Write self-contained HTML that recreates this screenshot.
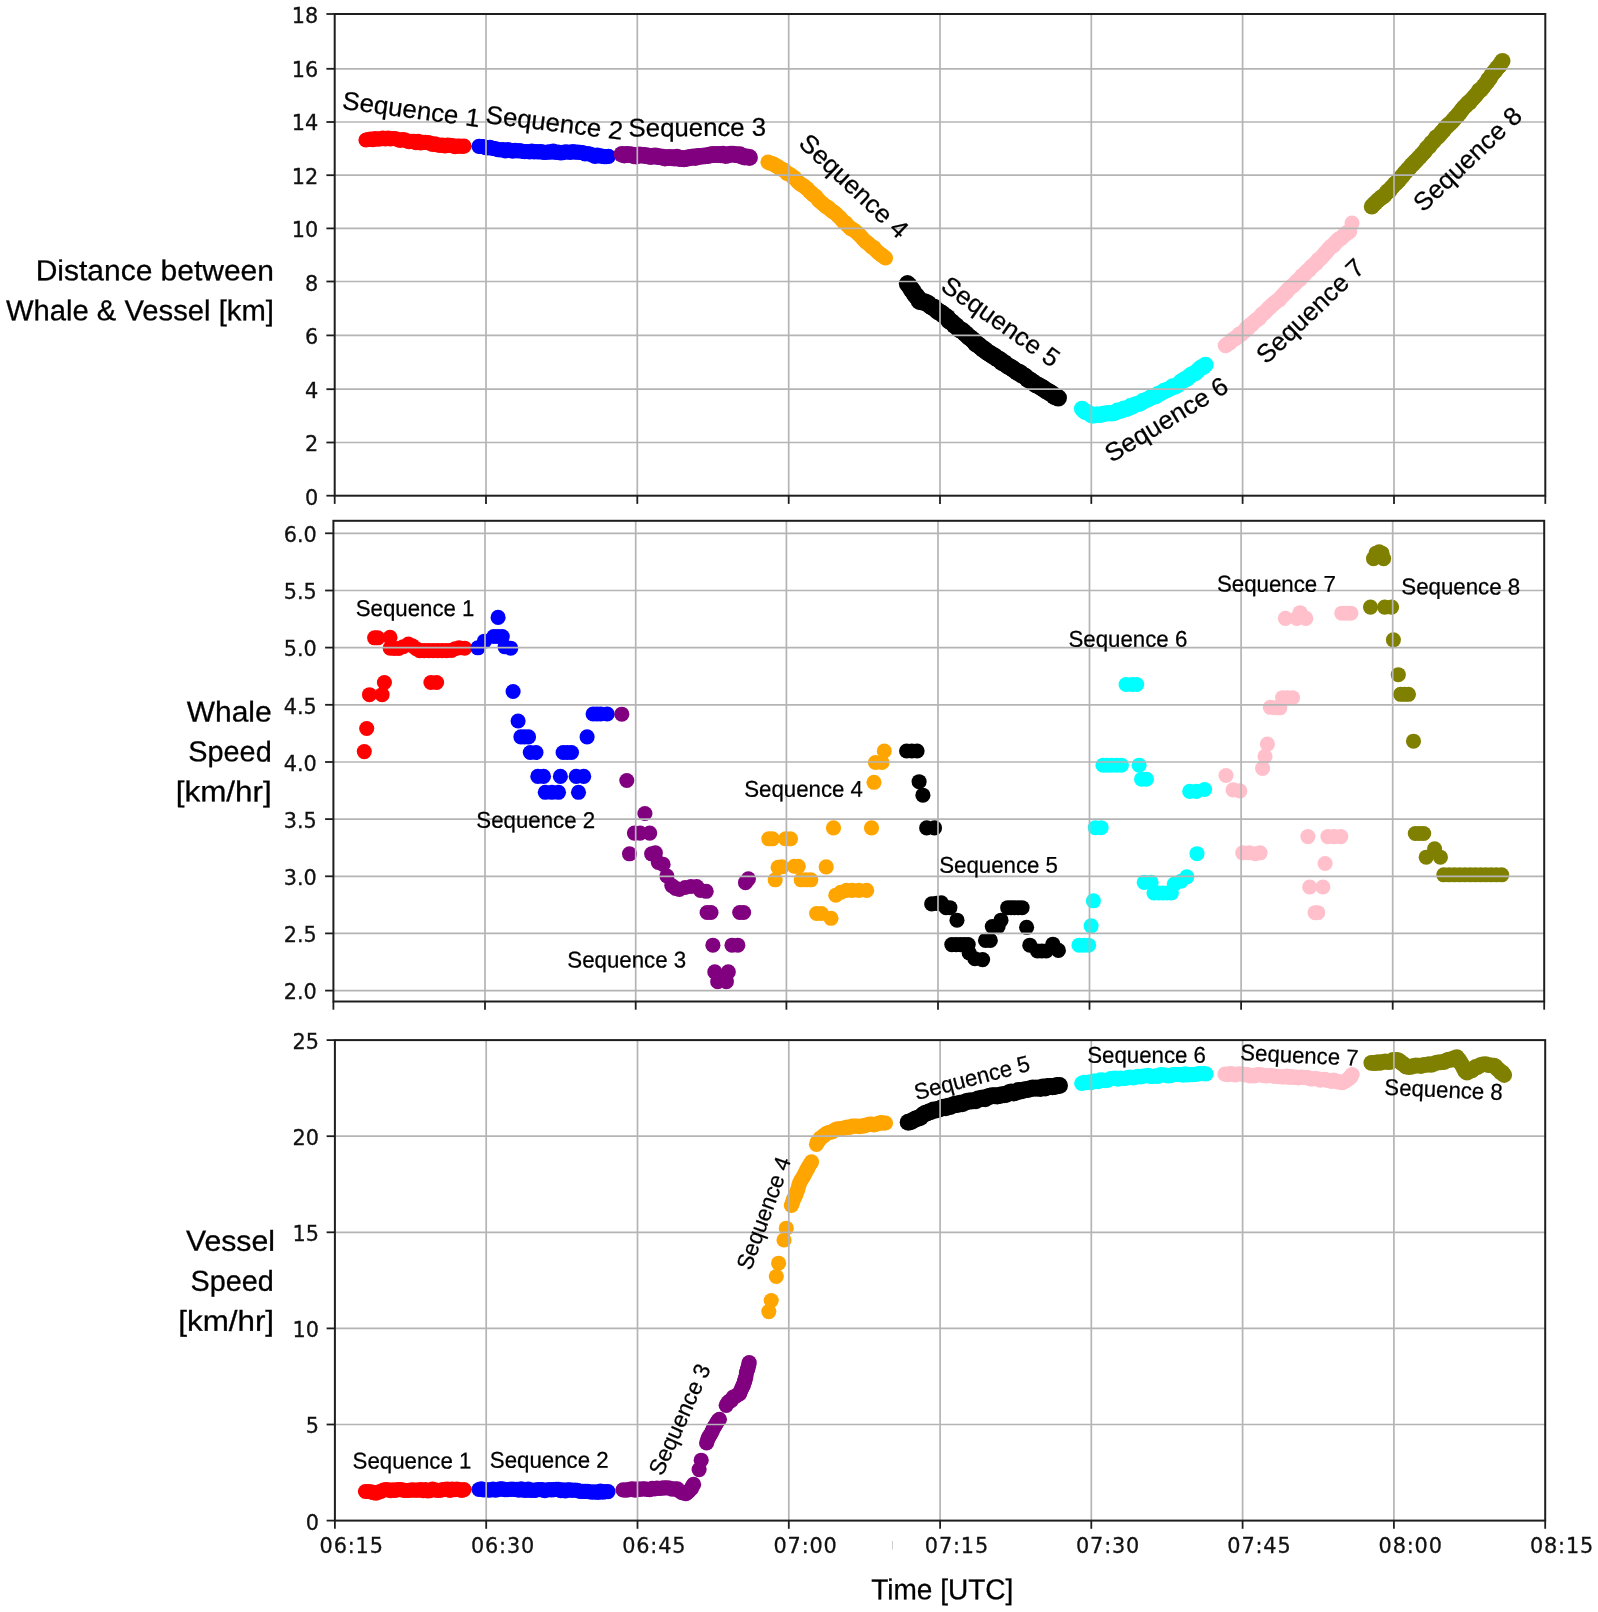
<!DOCTYPE html>
<html lang="en"><head><meta charset="utf-8"><title>Whale and vessel time series</title>
<style>
html,body{margin:0;padding:0;background:#fff;overflow:hidden}
svg{display:block}
.tk text{font-family:"DejaVu Sans","Liberation Sans",sans-serif;font-size:20.8px;fill:#111;stroke:#111;stroke-width:0.3px}
.sq{font-family:"Liberation Sans","DejaVu Sans",sans-serif;fill:#000;stroke:#000;stroke-width:0.25px}
.ax text{font-family:"Liberation Sans","DejaVu Sans",sans-serif;font-size:28.8px;fill:#000;stroke:#000;stroke-width:0.3px}
</style></head><body>
<svg width="1598" height="1612" viewBox="0 0 1598 1612" role="img" aria-label="Distance, whale speed and vessel speed versus time">
<defs><filter id="soft" x="0" y="0" width="1598" height="1612" filterUnits="userSpaceOnUse" color-interpolation-filters="sRGB"><feGaussianBlur stdDeviation="0.45"/></filter></defs>
<rect width="1598" height="1612" fill="#fff"/>
<g filter="url(#soft)">
<g fill="#ff0000">
<circle cx="366" cy="140" r="7.6"/><circle cx="368.2" cy="139.5" r="7.6"/><circle cx="370.5" cy="139.1" r="7.6"/><circle cx="372.8" cy="139.7" r="7.6"/><circle cx="375" cy="138.6" r="7.6"/><circle cx="377.6" cy="139.2" r="7.6"/><circle cx="380.2" cy="138.8" r="7.6"/><circle cx="382.8" cy="138.2" r="7.6"/><circle cx="385.4" cy="138.8" r="7.6"/><circle cx="388" cy="138" r="7.6"/><circle cx="390.4" cy="138.8" r="7.6"/><circle cx="392.8" cy="138.5" r="7.6"/><circle cx="395.2" cy="138.7" r="7.6"/><circle cx="397.6" cy="139.5" r="7.6"/><circle cx="400" cy="140.3" r="7.6"/><circle cx="402.3" cy="139.5" r="7.6"/><circle cx="404.6" cy="139.9" r="7.6"/><circle cx="406.9" cy="140.9" r="7.6"/><circle cx="409.1" cy="141.7" r="7.6"/><circle cx="411.4" cy="141.4" r="7.6"/><circle cx="413.7" cy="141.3" r="7.6"/><circle cx="416" cy="142.6" r="7.6"/><circle cx="418.3" cy="141.4" r="7.6"/><circle cx="420.7" cy="142.9" r="7.6"/><circle cx="423" cy="142.3" r="7.6"/><circle cx="425.3" cy="142.4" r="7.6"/><circle cx="427.7" cy="142.6" r="7.6"/><circle cx="430" cy="143.2" r="7.6"/><circle cx="432.5" cy="144.4" r="7.6"/><circle cx="435" cy="143.8" r="7.6"/><circle cx="437.5" cy="144.8" r="7.6"/><circle cx="440" cy="145.3" r="7.6"/><circle cx="442.5" cy="145.2" r="7.6"/><circle cx="445" cy="145.9" r="7.6"/><circle cx="447.5" cy="145.2" r="7.6"/><circle cx="450" cy="145.3" r="7.6"/><circle cx="452.5" cy="145.7" r="7.6"/><circle cx="455" cy="146.6" r="7.6"/><circle cx="457.2" cy="146.2" r="7.6"/><circle cx="459.5" cy="146" r="7.6"/><circle cx="461.8" cy="146.4" r="7.6"/><circle cx="464" cy="146.2" r="7.6"/>
</g>
<g fill="#0000ff">
<circle cx="479" cy="146.3" r="7.6"/><circle cx="481.2" cy="146.5" r="7.6"/><circle cx="483.4" cy="146.6" r="7.6"/><circle cx="485.6" cy="147.7" r="7.6"/><circle cx="487.8" cy="147.8" r="7.6"/><circle cx="490" cy="147.4" r="7.6"/><circle cx="492.6" cy="148.4" r="7.6"/><circle cx="495.2" cy="148.7" r="7.6"/><circle cx="497.8" cy="149.7" r="7.6"/><circle cx="500.4" cy="149.9" r="7.6"/><circle cx="503" cy="149.7" r="7.6"/><circle cx="505.4" cy="150.9" r="7.6"/><circle cx="507.9" cy="149.7" r="7.6"/><circle cx="510.3" cy="150.4" r="7.6"/><circle cx="512.7" cy="151.1" r="7.6"/><circle cx="515.1" cy="150.3" r="7.6"/><circle cx="517.6" cy="151" r="7.6"/><circle cx="520" cy="150.5" r="7.6"/><circle cx="522.4" cy="151.5" r="7.6"/><circle cx="524.7" cy="151.7" r="7.6"/><circle cx="527.1" cy="151.5" r="7.6"/><circle cx="529.5" cy="152" r="7.6"/><circle cx="531.8" cy="151.2" r="7.6"/><circle cx="534.2" cy="151.8" r="7.6"/><circle cx="536.5" cy="151.7" r="7.6"/><circle cx="538.9" cy="151.8" r="7.6"/><circle cx="541.3" cy="151.6" r="7.6"/><circle cx="543.6" cy="152.3" r="7.6"/><circle cx="546" cy="152.5" r="7.6"/><circle cx="548.4" cy="151.8" r="7.6"/><circle cx="550.8" cy="152.1" r="7.6"/><circle cx="553.2" cy="151.2" r="7.6"/><circle cx="555.7" cy="152.3" r="7.6"/><circle cx="558.1" cy="152.2" r="7.6"/><circle cx="560.5" cy="152.8" r="7.6"/><circle cx="562.9" cy="152.6" r="7.6"/><circle cx="565.3" cy="151.8" r="7.6"/><circle cx="567.8" cy="152" r="7.6"/><circle cx="570.2" cy="152.5" r="7.6"/><circle cx="572.6" cy="151.5" r="7.6"/><circle cx="575" cy="152.2" r="7.6"/><circle cx="577.5" cy="152.1" r="7.6"/><circle cx="580" cy="152.3" r="7.6"/><circle cx="582.5" cy="152.5" r="7.6"/><circle cx="585" cy="153.9" r="7.6"/><circle cx="587.5" cy="153.5" r="7.6"/><circle cx="590" cy="154.2" r="7.6"/><circle cx="592.5" cy="155.1" r="7.6"/><circle cx="595" cy="156.4" r="7.6"/><circle cx="597.2" cy="155.2" r="7.6"/><circle cx="599.5" cy="155.9" r="7.6"/><circle cx="601.8" cy="156.1" r="7.6"/><circle cx="604" cy="156.7" r="7.6"/><circle cx="606.2" cy="156.7" r="7.6"/><circle cx="608.5" cy="156.3" r="7.6"/>
</g>
<g fill="#800080">
<circle cx="622" cy="154.3" r="8.4"/><circle cx="624.4" cy="155.1" r="8.4"/><circle cx="626.8" cy="154.3" r="8.4"/><circle cx="629.2" cy="154.7" r="8.4"/><circle cx="631.6" cy="154.8" r="8.4"/><circle cx="634" cy="155.8" r="8.4"/><circle cx="636.4" cy="156.1" r="8.4"/><circle cx="638.8" cy="154.9" r="8.4"/><circle cx="641.2" cy="155.1" r="8.4"/><circle cx="643.6" cy="155.4" r="8.4"/><circle cx="646" cy="155.6" r="8.4"/><circle cx="648.4" cy="156.1" r="8.4"/><circle cx="650.8" cy="156.5" r="8.4"/><circle cx="653.1" cy="156.1" r="8.4"/><circle cx="655.5" cy="155.9" r="8.4"/><circle cx="657.9" cy="156.7" r="8.4"/><circle cx="660.2" cy="156.8" r="8.4"/><circle cx="662.6" cy="157.2" r="8.4"/><circle cx="665" cy="158" r="8.4"/><circle cx="667.4" cy="157.7" r="8.4"/><circle cx="669.8" cy="157.5" r="8.4"/><circle cx="672.1" cy="157.8" r="8.4"/><circle cx="674.5" cy="158" r="8.4"/><circle cx="676.9" cy="157.1" r="8.4"/><circle cx="679.2" cy="158.6" r="8.4"/><circle cx="681.6" cy="158.5" r="8.4"/><circle cx="684" cy="158.8" r="8.4"/><circle cx="686.3" cy="158.5" r="8.4"/><circle cx="688.6" cy="157.7" r="8.4"/><circle cx="690.9" cy="157.5" r="8.4"/><circle cx="693.1" cy="156.9" r="8.4"/><circle cx="695.4" cy="157.6" r="8.4"/><circle cx="697.7" cy="156.5" r="8.4"/><circle cx="700" cy="156.3" r="8.4"/><circle cx="702.6" cy="156.2" r="8.4"/><circle cx="705.2" cy="155.8" r="8.4"/><circle cx="707.8" cy="155.7" r="8.4"/><circle cx="710.4" cy="154.9" r="8.4"/><circle cx="713" cy="154.5" r="8.4"/><circle cx="715.5" cy="154.7" r="8.4"/><circle cx="718" cy="154.5" r="8.4"/><circle cx="720.5" cy="154.8" r="8.4"/><circle cx="723" cy="154.2" r="8.4"/><circle cx="725.5" cy="155.5" r="8.4"/><circle cx="728" cy="155" r="8.4"/><circle cx="730.5" cy="154.1" r="8.4"/><circle cx="733" cy="154.2" r="8.4"/><circle cx="735.2" cy="154.6" r="8.4"/><circle cx="737.5" cy="154.9" r="8.4"/><circle cx="739.8" cy="154.7" r="8.4"/><circle cx="742" cy="156.2" r="8.4"/><circle cx="744.5" cy="157" r="8.4"/><circle cx="747" cy="156.8" r="8.4"/><circle cx="749.5" cy="157.5" r="8.4"/>
</g>
<g fill="#ffa500">
<circle cx="768" cy="162.2" r="7.6"/><circle cx="770" cy="163.1" r="7.6"/><circle cx="772" cy="163.5" r="7.6"/><circle cx="774" cy="164.4" r="7.6"/><circle cx="776" cy="165.8" r="7.6"/><circle cx="778" cy="166.6" r="7.6"/><circle cx="780.2" cy="168.9" r="7.6"/><circle cx="782.4" cy="169.3" r="7.6"/><circle cx="784.6" cy="170.4" r="7.6"/><circle cx="786.8" cy="173.3" r="7.6"/><circle cx="789" cy="174" r="7.6"/><circle cx="790.9" cy="175" r="7.6"/><circle cx="792.8" cy="177.2" r="7.6"/><circle cx="794.7" cy="177.9" r="7.6"/><circle cx="796.6" cy="180.3" r="7.6"/><circle cx="798.4" cy="182.5" r="7.6"/><circle cx="800.3" cy="183.9" r="7.6"/><circle cx="802.2" cy="185.2" r="7.6"/><circle cx="804.1" cy="186.1" r="7.6"/><circle cx="806" cy="187.8" r="7.6"/><circle cx="807.7" cy="189" r="7.6"/><circle cx="809.4" cy="191.5" r="7.6"/><circle cx="811.1" cy="192.7" r="7.6"/><circle cx="812.8" cy="194.6" r="7.6"/><circle cx="814.5" cy="195.5" r="7.6"/><circle cx="816.2" cy="196.9" r="7.6"/><circle cx="817.9" cy="199.3" r="7.6"/><circle cx="819.6" cy="201.2" r="7.6"/><circle cx="821.3" cy="202.5" r="7.6"/><circle cx="823" cy="204" r="7.6"/><circle cx="824.9" cy="205.6" r="7.6"/><circle cx="826.8" cy="207.1" r="7.6"/><circle cx="828.7" cy="207.9" r="7.6"/><circle cx="830.6" cy="210" r="7.6"/><circle cx="832.4" cy="211.3" r="7.6"/><circle cx="834.3" cy="212.4" r="7.6"/><circle cx="836.2" cy="214" r="7.6"/><circle cx="838.1" cy="216" r="7.6"/><circle cx="840" cy="217.6" r="7.6"/><circle cx="841.9" cy="220" r="7.6"/><circle cx="843.8" cy="222.1" r="7.6"/><circle cx="845.6" cy="222.9" r="7.6"/><circle cx="847.5" cy="225.4" r="7.6"/><circle cx="849.4" cy="227.2" r="7.6"/><circle cx="851.2" cy="228.8" r="7.6"/><circle cx="853.1" cy="229.5" r="7.6"/><circle cx="855" cy="231" r="7.6"/><circle cx="856.9" cy="232.7" r="7.6"/><circle cx="858.8" cy="234.3" r="7.6"/><circle cx="860.6" cy="236" r="7.6"/><circle cx="862.5" cy="238.4" r="7.6"/><circle cx="864.4" cy="240.5" r="7.6"/><circle cx="866.2" cy="242.1" r="7.6"/><circle cx="868.1" cy="243.3" r="7.6"/><circle cx="870" cy="245.2" r="7.6"/><circle cx="871.9" cy="247.1" r="7.6"/><circle cx="873.9" cy="247.6" r="7.6"/><circle cx="875.8" cy="250.1" r="7.6"/><circle cx="877.8" cy="252.2" r="7.6"/><circle cx="879.7" cy="253.6" r="7.6"/><circle cx="881.6" cy="255.2" r="7.6"/><circle cx="883.6" cy="256.3" r="7.6"/><circle cx="885.5" cy="258" r="7.6"/>
</g>
<g fill="#000000">
<circle cx="907.5" cy="283.8" r="8.7"/><circle cx="909.2" cy="285.6" r="8.7"/><circle cx="911" cy="289" r="8.7"/><circle cx="912.3" cy="290.1" r="8.7"/><circle cx="913.7" cy="292.6" r="8.7"/><circle cx="915" cy="294.8" r="8.7"/><circle cx="916.5" cy="296" r="8.7"/><circle cx="918" cy="298.2" r="8.7"/><circle cx="919.5" cy="301.2" r="8.7"/><circle cx="921.8" cy="301.7" r="8.7"/><circle cx="924" cy="301.7" r="8.7"/><circle cx="926" cy="302.5" r="8.7"/><circle cx="928" cy="303.5" r="8.7"/><circle cx="930" cy="305.6" r="8.7"/><circle cx="932" cy="306.9" r="8.7"/><circle cx="934" cy="307.2" r="8.7"/><circle cx="936" cy="309.7" r="8.7"/><circle cx="938" cy="311.4" r="8.7"/><circle cx="940" cy="312.3" r="8.7"/><circle cx="941.8" cy="313.3" r="8.7"/><circle cx="943.6" cy="315.2" r="8.7"/><circle cx="945.4" cy="316.1" r="8.7"/><circle cx="947.2" cy="317.4" r="8.7"/><circle cx="949" cy="320.5" r="8.7"/><circle cx="950.8" cy="321.5" r="8.7"/><circle cx="952.6" cy="322.9" r="8.7"/><circle cx="954.4" cy="325.1" r="8.7"/><circle cx="956.2" cy="325.8" r="8.7"/><circle cx="958" cy="328.1" r="8.7"/><circle cx="959.8" cy="329.6" r="8.7"/><circle cx="961.6" cy="330.1" r="8.7"/><circle cx="963.3" cy="331.7" r="8.7"/><circle cx="965.1" cy="333.4" r="8.7"/><circle cx="966.9" cy="334.8" r="8.7"/><circle cx="968.7" cy="336.9" r="8.7"/><circle cx="970.5" cy="337.9" r="8.7"/><circle cx="972.3" cy="339.7" r="8.7"/><circle cx="974" cy="340.8" r="8.7"/><circle cx="975.8" cy="343.6" r="8.7"/><circle cx="977.6" cy="344.3" r="8.7"/><circle cx="979.4" cy="345.8" r="8.7"/><circle cx="981.3" cy="347.3" r="8.7"/><circle cx="983.1" cy="349.2" r="8.7"/><circle cx="985" cy="349.8" r="8.7"/><circle cx="986.8" cy="351.9" r="8.7"/><circle cx="988.6" cy="352.6" r="8.7"/><circle cx="990.5" cy="354" r="8.7"/><circle cx="992.3" cy="355.3" r="8.7"/><circle cx="994.2" cy="355.9" r="8.7"/><circle cx="996" cy="357.9" r="8.7"/><circle cx="997.9" cy="358.7" r="8.7"/><circle cx="999.8" cy="359.7" r="8.7"/><circle cx="1001.8" cy="362.2" r="8.7"/><circle cx="1003.7" cy="362.4" r="8.7"/><circle cx="1005.6" cy="364.1" r="8.7"/><circle cx="1007.5" cy="365.7" r="8.7"/><circle cx="1009.4" cy="366.7" r="8.7"/><circle cx="1011.4" cy="367.6" r="8.7"/><circle cx="1013.3" cy="369.1" r="8.7"/><circle cx="1015.2" cy="370.4" r="8.7"/><circle cx="1017.3" cy="372.1" r="8.7"/><circle cx="1019.4" cy="372.4" r="8.7"/><circle cx="1021.4" cy="374.5" r="8.7"/><circle cx="1023.5" cy="375.4" r="8.7"/><circle cx="1025.6" cy="376.8" r="8.7"/><circle cx="1027.7" cy="379" r="8.7"/><circle cx="1029.8" cy="379.9" r="8.7"/><circle cx="1031.8" cy="381.4" r="8.7"/><circle cx="1033.9" cy="383" r="8.7"/><circle cx="1036" cy="384.7" r="8.7"/><circle cx="1038" cy="385.2" r="8.7"/><circle cx="1040.1" cy="386.7" r="8.7"/><circle cx="1042.1" cy="387.8" r="8.7"/><circle cx="1044.1" cy="389" r="8.7"/><circle cx="1046.1" cy="390.6" r="8.7"/><circle cx="1048.2" cy="391.5" r="8.7"/><circle cx="1050.2" cy="392.8" r="8.7"/><circle cx="1052.2" cy="394" r="8.7"/><circle cx="1054.2" cy="396" r="8.7"/><circle cx="1056.3" cy="396.9" r="8.7"/><circle cx="1058.3" cy="397.8" r="8.7"/>
</g>
<g fill="#00ffff">
<circle cx="1082" cy="408.8" r="8.1"/><circle cx="1083.7" cy="410.6" r="8.1"/><circle cx="1085.3" cy="412" r="8.1"/><circle cx="1087" cy="412.1" r="8.1"/><circle cx="1089.5" cy="413.7" r="8.1"/><circle cx="1092" cy="415.5" r="8.1"/><circle cx="1094" cy="415.5" r="8.1"/><circle cx="1096" cy="414.6" r="8.1"/><circle cx="1098" cy="414.7" r="8.1"/><circle cx="1100.5" cy="414.9" r="8.1"/><circle cx="1103" cy="413.9" r="8.1"/><circle cx="1105.5" cy="413.7" r="8.1"/><circle cx="1108" cy="413" r="8.1"/><circle cx="1110.5" cy="413.4" r="8.1"/><circle cx="1113" cy="413.2" r="8.1"/><circle cx="1115.2" cy="412.6" r="8.1"/><circle cx="1117.4" cy="410.7" r="8.1"/><circle cx="1119.6" cy="410.9" r="8.1"/><circle cx="1121.8" cy="410.2" r="8.1"/><circle cx="1124" cy="408.6" r="8.1"/><circle cx="1126.1" cy="409" r="8.1"/><circle cx="1128.2" cy="408.3" r="8.1"/><circle cx="1130.3" cy="406.2" r="8.1"/><circle cx="1132.4" cy="406.6" r="8.1"/><circle cx="1134.5" cy="404.8" r="8.1"/><circle cx="1136.6" cy="404.1" r="8.1"/><circle cx="1138.7" cy="404" r="8.1"/><circle cx="1140.8" cy="402.9" r="8.1"/><circle cx="1142.9" cy="400.9" r="8.1"/><circle cx="1145" cy="400.5" r="8.1"/><circle cx="1147.1" cy="399.7" r="8.1"/><circle cx="1149.3" cy="398.4" r="8.1"/><circle cx="1151.4" cy="397.2" r="8.1"/><circle cx="1153.6" cy="396.5" r="8.1"/><circle cx="1155.7" cy="396.2" r="8.1"/><circle cx="1157.8" cy="394" r="8.1"/><circle cx="1159.8" cy="393.8" r="8.1"/><circle cx="1161.9" cy="392.6" r="8.1"/><circle cx="1163.9" cy="390.9" r="8.1"/><circle cx="1166" cy="390.3" r="8.1"/><circle cx="1168.2" cy="389.6" r="8.1"/><circle cx="1170.4" cy="388.3" r="8.1"/><circle cx="1172.6" cy="386.4" r="8.1"/><circle cx="1174.8" cy="386.7" r="8.1"/><circle cx="1177" cy="385.2" r="8.1"/><circle cx="1179" cy="384.2" r="8.1"/><circle cx="1181" cy="381.6" r="8.1"/><circle cx="1183" cy="380.6" r="8.1"/><circle cx="1185" cy="379" r="8.1"/><circle cx="1187" cy="378.7" r="8.1"/><circle cx="1189" cy="376.5" r="8.1"/><circle cx="1191" cy="374.8" r="8.1"/><circle cx="1193" cy="373.9" r="8.1"/><circle cx="1195" cy="373.2" r="8.1"/><circle cx="1197" cy="371.6" r="8.1"/><circle cx="1199" cy="369.2" r="8.1"/><circle cx="1201.2" cy="367.4" r="8.1"/><circle cx="1203.3" cy="367.1" r="8.1"/><circle cx="1205.5" cy="364.8" r="8.1"/>
</g>
<g fill="#ffc0cb">
<circle cx="1225.5" cy="345.5" r="7.8"/><circle cx="1227.6" cy="344.1" r="7.8"/><circle cx="1229.8" cy="342.8" r="7.8"/><circle cx="1231.9" cy="340.3" r="7.8"/><circle cx="1234" cy="338.8" r="7.8"/><circle cx="1235.8" cy="338.3" r="7.8"/><circle cx="1237.6" cy="336.4" r="7.8"/><circle cx="1239.4" cy="334.3" r="7.8"/><circle cx="1241.2" cy="334.2" r="7.8"/><circle cx="1243" cy="332.2" r="7.8"/><circle cx="1244.8" cy="330.9" r="7.8"/><circle cx="1246.6" cy="328.1" r="7.8"/><circle cx="1248.4" cy="327.8" r="7.8"/><circle cx="1250.2" cy="324.9" r="7.8"/><circle cx="1252" cy="324.6" r="7.8"/><circle cx="1253.8" cy="322.3" r="7.8"/><circle cx="1255.6" cy="320.5" r="7.8"/><circle cx="1257.4" cy="319.3" r="7.8"/><circle cx="1259.2" cy="318.3" r="7.8"/><circle cx="1261" cy="315.6" r="7.8"/><circle cx="1262.8" cy="313.7" r="7.8"/><circle cx="1264.7" cy="312.6" r="7.8"/><circle cx="1266.5" cy="310.5" r="7.8"/><circle cx="1268.4" cy="308.6" r="7.8"/><circle cx="1270.2" cy="307" r="7.8"/><circle cx="1272.1" cy="305.1" r="7.8"/><circle cx="1274" cy="303.6" r="7.8"/><circle cx="1275.8" cy="302.1" r="7.8"/><circle cx="1277.7" cy="300.4" r="7.8"/><circle cx="1279.5" cy="299.4" r="7.8"/><circle cx="1281.2" cy="296.9" r="7.8"/><circle cx="1282.9" cy="295.6" r="7.8"/><circle cx="1284.7" cy="293.3" r="7.8"/><circle cx="1286.4" cy="291.9" r="7.8"/><circle cx="1288.1" cy="289.6" r="7.8"/><circle cx="1289.8" cy="288.3" r="7.8"/><circle cx="1291.6" cy="286.2" r="7.8"/><circle cx="1293.3" cy="285.6" r="7.8"/><circle cx="1295" cy="283.6" r="7.8"/><circle cx="1296.8" cy="281.2" r="7.8"/><circle cx="1298.6" cy="279.9" r="7.8"/><circle cx="1300.3" cy="278.9" r="7.8"/><circle cx="1302.1" cy="275.8" r="7.8"/><circle cx="1303.9" cy="275.1" r="7.8"/><circle cx="1305.7" cy="272.7" r="7.8"/><circle cx="1307.4" cy="271" r="7.8"/><circle cx="1309.2" cy="269.8" r="7.8"/><circle cx="1311" cy="267.3" r="7.8"/><circle cx="1312.8" cy="265.7" r="7.8"/><circle cx="1314.6" cy="264.2" r="7.8"/><circle cx="1316.3" cy="262.9" r="7.8"/><circle cx="1318.1" cy="260.1" r="7.8"/><circle cx="1319.9" cy="259.1" r="7.8"/><circle cx="1321.7" cy="257.2" r="7.8"/><circle cx="1323.4" cy="255.3" r="7.8"/><circle cx="1325.2" cy="253.1" r="7.8"/><circle cx="1327" cy="251.3" r="7.8"/><circle cx="1328.7" cy="249.1" r="7.8"/><circle cx="1330.3" cy="247.6" r="7.8"/><circle cx="1332" cy="245.8" r="7.8"/><circle cx="1333.7" cy="245.3" r="7.8"/><circle cx="1335.3" cy="242.8" r="7.8"/><circle cx="1337" cy="241" r="7.8"/><circle cx="1338.7" cy="239.2" r="7.8"/><circle cx="1340.3" cy="238.8" r="7.8"/><circle cx="1342" cy="237.2" r="7.8"/><circle cx="1343.9" cy="235.6" r="7.8"/><circle cx="1345.8" cy="233.7" r="7.8"/><circle cx="1347.6" cy="232.4" r="7.8"/><circle cx="1349.5" cy="231.5" r="7.8"/>
</g>
<g fill="#808000">
<circle cx="1371.8" cy="206.5" r="8"/><circle cx="1373.7" cy="204.4" r="8"/><circle cx="1375.5" cy="202.9" r="8"/><circle cx="1377.4" cy="200.7" r="8"/><circle cx="1379.3" cy="199.4" r="8"/><circle cx="1381.1" cy="197.4" r="8"/><circle cx="1383" cy="196.7" r="8"/><circle cx="1384.7" cy="195.2" r="8"/><circle cx="1386.3" cy="192.9" r="8"/><circle cx="1388" cy="190.9" r="8"/><circle cx="1389.6" cy="190.5" r="8"/><circle cx="1391.3" cy="187.8" r="8"/><circle cx="1392.9" cy="186.3" r="8"/><circle cx="1394.6" cy="184.2" r="8"/><circle cx="1396.2" cy="183" r="8"/><circle cx="1397.7" cy="181.4" r="8"/><circle cx="1399.3" cy="179.7" r="8"/><circle cx="1400.9" cy="177.4" r="8"/><circle cx="1402.4" cy="176.2" r="8"/><circle cx="1404" cy="173.6" r="8"/><circle cx="1405.6" cy="172.2" r="8"/><circle cx="1407.2" cy="170.2" r="8"/><circle cx="1408.7" cy="168.9" r="8"/><circle cx="1410.3" cy="166.6" r="8"/><circle cx="1411.9" cy="164.8" r="8"/><circle cx="1413.4" cy="163.5" r="8"/><circle cx="1415" cy="161.6" r="8"/><circle cx="1416.6" cy="160.3" r="8"/><circle cx="1418.2" cy="158.4" r="8"/><circle cx="1419.8" cy="156.9" r="8"/><circle cx="1421.5" cy="154.9" r="8"/><circle cx="1423.1" cy="153.2" r="8"/><circle cx="1424.7" cy="151.6" r="8"/><circle cx="1426.3" cy="149" r="8"/><circle cx="1427.9" cy="147.1" r="8"/><circle cx="1429.5" cy="146.3" r="8"/><circle cx="1431.2" cy="143.1" r="8"/><circle cx="1432.8" cy="142.2" r="8"/><circle cx="1434.4" cy="140.3" r="8"/><circle cx="1436" cy="137.5" r="8"/><circle cx="1437.6" cy="137" r="8"/><circle cx="1439.2" cy="135.4" r="8"/><circle cx="1440.8" cy="133.3" r="8"/><circle cx="1442.3" cy="131.7" r="8"/><circle cx="1443.9" cy="130.1" r="8"/><circle cx="1445.5" cy="127.3" r="8"/><circle cx="1447.1" cy="126.3" r="8"/><circle cx="1448.7" cy="124.5" r="8"/><circle cx="1450.3" cy="123.3" r="8"/><circle cx="1451.9" cy="121.6" r="8"/><circle cx="1453.5" cy="119.9" r="8"/><circle cx="1455.1" cy="117.8" r="8"/><circle cx="1456.6" cy="116.6" r="8"/><circle cx="1458.2" cy="114.5" r="8"/><circle cx="1459.8" cy="112.8" r="8"/><circle cx="1461.4" cy="110.4" r="8"/><circle cx="1463" cy="108.3" r="8"/><circle cx="1464.6" cy="106.7" r="8"/><circle cx="1466.2" cy="105.3" r="8"/><circle cx="1467.8" cy="103.1" r="8"/><circle cx="1469.4" cy="102.5" r="8"/><circle cx="1471" cy="100.3" r="8"/><circle cx="1472.7" cy="98.6" r="8"/><circle cx="1474.3" cy="96.8" r="8"/><circle cx="1475.9" cy="95.1" r="8"/><circle cx="1477.5" cy="93.1" r="8"/><circle cx="1479.1" cy="90.5" r="8"/><circle cx="1480.7" cy="90" r="8"/><circle cx="1482.3" cy="88.2" r="8"/><circle cx="1483.9" cy="86" r="8"/><circle cx="1485.3" cy="84.1" r="8"/><circle cx="1486.8" cy="82.4" r="8"/><circle cx="1488.2" cy="79.5" r="8"/><circle cx="1489.6" cy="78.7" r="8"/><circle cx="1491.1" cy="75.9" r="8"/><circle cx="1492.5" cy="73.7" r="8"/><circle cx="1493.9" cy="72.1" r="8"/><circle cx="1495.3" cy="70.9" r="8"/><circle cx="1496.8" cy="68.2" r="8"/><circle cx="1498.2" cy="67.1" r="8"/><circle cx="1499.6" cy="65.5" r="8"/><circle cx="1501.1" cy="62.8" r="8"/><circle cx="1502.5" cy="60.9" r="8"/>
</g>
<g fill="#ffc0cb">
<circle cx="1352" cy="223" r="7.55"/>
</g>
<g stroke="#b4b4b4" stroke-width="1.7" fill="none">
<line x1="486" y1="14" x2="486" y2="495.7"/>
<line x1="637.3" y1="14" x2="637.3" y2="495.7"/>
<line x1="788.7" y1="14" x2="788.7" y2="495.7"/>
<line x1="940" y1="14" x2="940" y2="495.7"/>
<line x1="1091.3" y1="14" x2="1091.3" y2="495.7"/>
<line x1="1242.6" y1="14" x2="1242.6" y2="495.7"/>
<line x1="1394" y1="14" x2="1394" y2="495.7"/>
<line x1="334.7" y1="68.8" x2="1545.3" y2="68.8"/>
<line x1="334.7" y1="122" x2="1545.3" y2="122"/>
<line x1="334.7" y1="175.2" x2="1545.3" y2="175.2"/>
<line x1="334.7" y1="228.4" x2="1545.3" y2="228.4"/>
<line x1="334.7" y1="281.5" x2="1545.3" y2="281.5"/>
<line x1="334.7" y1="335.4" x2="1545.3" y2="335.4"/>
<line x1="334.7" y1="389.2" x2="1545.3" y2="389.2"/>
<line x1="334.7" y1="442.5" x2="1545.3" y2="442.5"/>
</g>
<g stroke="#1e1e1e" stroke-width="1.8" fill="none">
<line x1="334.7" y1="495.7" x2="334.7" y2="503.9"/>
<line x1="486" y1="495.7" x2="486" y2="503.9"/>
<line x1="637.3" y1="495.7" x2="637.3" y2="503.9"/>
<line x1="788.7" y1="495.7" x2="788.7" y2="503.9"/>
<line x1="940" y1="495.7" x2="940" y2="503.9"/>
<line x1="1091.3" y1="495.7" x2="1091.3" y2="503.9"/>
<line x1="1242.6" y1="495.7" x2="1242.6" y2="503.9"/>
<line x1="1394" y1="495.7" x2="1394" y2="503.9"/>
<line x1="1545.3" y1="495.7" x2="1545.3" y2="503.9"/>
<line x1="326.4" y1="14" x2="334.7" y2="14"/>
<line x1="326.4" y1="68.8" x2="334.7" y2="68.8"/>
<line x1="326.4" y1="122" x2="334.7" y2="122"/>
<line x1="326.4" y1="175.2" x2="334.7" y2="175.2"/>
<line x1="326.4" y1="228.4" x2="334.7" y2="228.4"/>
<line x1="326.4" y1="281.5" x2="334.7" y2="281.5"/>
<line x1="326.4" y1="335.4" x2="334.7" y2="335.4"/>
<line x1="326.4" y1="389.2" x2="334.7" y2="389.2"/>
<line x1="326.4" y1="442.5" x2="334.7" y2="442.5"/>
<line x1="326.4" y1="495.7" x2="334.7" y2="495.7"/>
</g>
<rect x="334.7" y="14" width="1210.6" height="481.7" fill="none" stroke="#1e1e1e" stroke-width="2.0"/>
<g class="tk" text-anchor="end">
<text x="318.2" y="23.2">18</text>
<text x="318.2" y="76.7">16</text>
<text x="318.2" y="130.2">14</text>
<text x="318.2" y="183.7">12</text>
<text x="318.2" y="237.2">10</text>
<text x="318.2" y="290.6">8</text>
<text x="318.2" y="344.1">6</text>
<text x="318.2" y="397.6">4</text>
<text x="318.2" y="451.1">2</text>
<text x="318.2" y="504.6">0</text>
</g>
<g fill="#ff0000">
<circle cx="364.3" cy="751.6" r="7.55"/><circle cx="366.7" cy="728.5" r="7.55"/><circle cx="369.5" cy="694.7" r="7.55"/><circle cx="382.1" cy="694.7" r="7.55"/><circle cx="384.4" cy="682.5" r="7.55"/><circle cx="374.6" cy="637.8" r="7.55"/><circle cx="377.7" cy="637.8" r="7.55"/><circle cx="390" cy="637.4" r="7.55"/><circle cx="390.2" cy="648.2" r="7.55"/><circle cx="394.2" cy="648.5" r="7.55"/><circle cx="398.7" cy="648.5" r="7.55"/><circle cx="403.2" cy="646.7" r="7.55"/><circle cx="408.4" cy="644" r="7.55"/><circle cx="412.2" cy="645.7" r="7.55"/><circle cx="416.2" cy="648.7" r="7.55"/><circle cx="419.7" cy="650.6" r="7.55"/><circle cx="424.2" cy="650.6" r="7.55"/><circle cx="428.7" cy="650.6" r="7.55"/><circle cx="433.2" cy="650.6" r="7.55"/><circle cx="437.7" cy="650.6" r="7.55"/><circle cx="442.2" cy="650.6" r="7.55"/><circle cx="446.7" cy="650.6" r="7.55"/><circle cx="451.6" cy="650.4" r="7.55"/><circle cx="455.2" cy="648.7" r="7.55"/><circle cx="459.1" cy="647.8" r="7.55"/><circle cx="464.7" cy="648.2" r="7.55"/><circle cx="430.9" cy="682.5" r="7.55"/><circle cx="436.6" cy="682.5" r="7.55"/>
</g>
<g fill="#0000ff">
<circle cx="477.9" cy="647.8" r="7.55"/><circle cx="484.4" cy="641.2" r="7.55"/><circle cx="493.8" cy="636.5" r="7.55"/><circle cx="498" cy="636.5" r="7.55"/><circle cx="502.3" cy="636.5" r="7.55"/><circle cx="498.1" cy="617.4" r="7.55"/><circle cx="505.1" cy="646.8" r="7.55"/><circle cx="510.7" cy="648.2" r="7.55"/><circle cx="513.1" cy="691.5" r="7.55"/><circle cx="518.1" cy="721" r="7.55"/><circle cx="520.9" cy="736.9" r="7.55"/><circle cx="524.6" cy="736.9" r="7.55"/><circle cx="528.5" cy="736.9" r="7.55"/><circle cx="530.3" cy="752.5" r="7.55"/><circle cx="536" cy="752.5" r="7.55"/><circle cx="537.8" cy="776.4" r="7.55"/><circle cx="543.5" cy="776.4" r="7.55"/><circle cx="545.3" cy="792.3" r="7.55"/><circle cx="551.9" cy="792.3" r="7.55"/><circle cx="558.5" cy="792.3" r="7.55"/><circle cx="560.4" cy="776.4" r="7.55"/><circle cx="563.1" cy="752.5" r="7.55"/><circle cx="567.3" cy="752.5" r="7.55"/><circle cx="571.5" cy="752.5" r="7.55"/><circle cx="576.2" cy="776.4" r="7.55"/><circle cx="583.7" cy="776.4" r="7.55"/><circle cx="578.5" cy="792.3" r="7.55"/><circle cx="587.1" cy="736.9" r="7.55"/><circle cx="593.1" cy="714" r="7.55"/><circle cx="596.9" cy="714" r="7.55"/><circle cx="600.6" cy="714" r="7.55"/><circle cx="607.2" cy="714" r="7.55"/>
</g>
<g fill="#800080">
<circle cx="621.8" cy="714.2" r="7.55"/><circle cx="626.8" cy="780.5" r="7.55"/><circle cx="644.9" cy="813.5" r="7.55"/><circle cx="634.4" cy="833.1" r="7.55"/><circle cx="640.1" cy="833.1" r="7.55"/><circle cx="649.7" cy="833.1" r="7.55"/><circle cx="629.5" cy="853.8" r="7.55"/><circle cx="651.6" cy="853.8" r="7.55"/><circle cx="655.4" cy="852.9" r="7.55"/><circle cx="658.3" cy="862.5" r="7.55"/><circle cx="663.1" cy="864.4" r="7.55"/><circle cx="666.9" cy="876" r="7.55"/><circle cx="671.8" cy="885.6" r="7.55"/><circle cx="675.6" cy="888.4" r="7.55"/><circle cx="679.3" cy="889.4" r="7.55"/><circle cx="685.1" cy="887.5" r="7.55"/><circle cx="690.9" cy="886.5" r="7.55"/><circle cx="696.7" cy="886.5" r="7.55"/><circle cx="700.5" cy="890.4" r="7.55"/><circle cx="706.2" cy="891.3" r="7.55"/><circle cx="707.1" cy="912.5" r="7.55"/><circle cx="711" cy="912.5" r="7.55"/><circle cx="712.9" cy="945.2" r="7.55"/><circle cx="714.8" cy="971.9" r="7.55"/><circle cx="728.3" cy="971.9" r="7.55"/><circle cx="717.7" cy="981.7" r="7.55"/><circle cx="726.4" cy="981.7" r="7.55"/><circle cx="721.9" cy="976.9" r="7.55"/><circle cx="732" cy="945.2" r="7.55"/><circle cx="737.8" cy="945.2" r="7.55"/><circle cx="739.7" cy="912.5" r="7.55"/><circle cx="743.6" cy="912.5" r="7.55"/><circle cx="745.5" cy="882.7" r="7.55"/><circle cx="748.4" cy="878.9" r="7.55"/>
</g>
<g fill="#ffa500">
<circle cx="768.8" cy="838.8" r="7.55"/><circle cx="772.4" cy="838.8" r="7.55"/><circle cx="785.7" cy="838.8" r="7.55"/><circle cx="790.5" cy="838.8" r="7.55"/><circle cx="778.1" cy="867.3" r="7.55"/><circle cx="781.9" cy="866.8" r="7.55"/><circle cx="775.2" cy="879.8" r="7.55"/><circle cx="794.4" cy="866.3" r="7.55"/><circle cx="798.3" cy="866.3" r="7.55"/><circle cx="801.2" cy="879.8" r="7.55"/><circle cx="806" cy="879.8" r="7.55"/><circle cx="810.8" cy="879.8" r="7.55"/><circle cx="816.6" cy="913.5" r="7.55"/><circle cx="821.4" cy="913.5" r="7.55"/><circle cx="831" cy="918.3" r="7.55"/><circle cx="826.2" cy="866.9" r="7.55"/><circle cx="833.5" cy="827.9" r="7.55"/><circle cx="835.8" cy="895.2" r="7.55"/><circle cx="840.7" cy="892.3" r="7.55"/><circle cx="846.5" cy="890.4" r="7.55"/><circle cx="852.2" cy="890.4" r="7.55"/><circle cx="859" cy="890.4" r="7.55"/><circle cx="866.7" cy="890.4" r="7.55"/><circle cx="871.5" cy="827.9" r="7.55"/><circle cx="874" cy="782.3" r="7.55"/><circle cx="875.5" cy="762.5" r="7.55"/><circle cx="882" cy="762.5" r="7.55"/><circle cx="884.3" cy="751" r="7.55"/>
</g>
<g fill="#000000">
<circle cx="906.6" cy="751" r="7.55"/><circle cx="911.8" cy="751" r="7.55"/><circle cx="917.1" cy="751" r="7.55"/><circle cx="919.1" cy="781.7" r="7.55"/><circle cx="922.9" cy="795.2" r="7.55"/><circle cx="926.7" cy="827.9" r="7.55"/><circle cx="934.5" cy="827.9" r="7.55"/><circle cx="931.7" cy="903.9" r="7.55"/><circle cx="936.5" cy="903.4" r="7.55"/><circle cx="941.3" cy="902.9" r="7.55"/><circle cx="946.1" cy="907.7" r="7.55"/><circle cx="949.9" cy="907.7" r="7.55"/><circle cx="957" cy="920.2" r="7.55"/><circle cx="951.8" cy="944.6" r="7.55"/><circle cx="956.2" cy="944.6" r="7.55"/><circle cx="960.5" cy="944.6" r="7.55"/><circle cx="964.4" cy="944.6" r="7.55"/><circle cx="968.2" cy="944.6" r="7.55"/><circle cx="969.2" cy="952.9" r="7.55"/><circle cx="974.9" cy="958.7" r="7.55"/><circle cx="982.6" cy="959.6" r="7.55"/><circle cx="985.5" cy="940.4" r="7.55"/><circle cx="990.3" cy="940.4" r="7.55"/><circle cx="992.3" cy="926.6" r="7.55"/><circle cx="998.1" cy="926.6" r="7.55"/><circle cx="1001" cy="920.2" r="7.55"/><circle cx="1007.7" cy="907.7" r="7.55"/><circle cx="1011.1" cy="907.7" r="7.55"/><circle cx="1014.4" cy="907.7" r="7.55"/><circle cx="1018.3" cy="907.7" r="7.55"/><circle cx="1022.1" cy="907.7" r="7.55"/><circle cx="1026.6" cy="927.3" r="7.55"/><circle cx="1029.8" cy="945.2" r="7.55"/><circle cx="1037.5" cy="951" r="7.55"/><circle cx="1041.8" cy="951" r="7.55"/><circle cx="1046.2" cy="951" r="7.55"/><circle cx="1052.9" cy="944.2" r="7.55"/><circle cx="1058.4" cy="950.4" r="7.55"/>
</g>
<g fill="#00ffff">
<circle cx="1079" cy="945.2" r="7.55"/><circle cx="1083.8" cy="945.2" r="7.55"/><circle cx="1088.6" cy="945.2" r="7.55"/><circle cx="1091.1" cy="925.8" r="7.55"/><circle cx="1093.4" cy="900.8" r="7.55"/><circle cx="1095.3" cy="827.7" r="7.55"/><circle cx="1101.1" cy="827.7" r="7.55"/><circle cx="1103" cy="765.2" r="7.55"/><circle cx="1107.3" cy="765.2" r="7.55"/><circle cx="1111.7" cy="765.2" r="7.55"/><circle cx="1116.5" cy="765.2" r="7.55"/><circle cx="1121.4" cy="765.2" r="7.55"/><circle cx="1139.1" cy="765.2" r="7.55"/><circle cx="1141.6" cy="779.2" r="7.55"/><circle cx="1146.4" cy="779.2" r="7.55"/><circle cx="1126.1" cy="684.5" r="7.55"/><circle cx="1131.9" cy="684.5" r="7.55"/><circle cx="1136.7" cy="684.5" r="7.55"/><circle cx="1144.2" cy="882.4" r="7.55"/><circle cx="1151.1" cy="882.4" r="7.55"/><circle cx="1154" cy="893" r="7.55"/><circle cx="1158.6" cy="893" r="7.55"/><circle cx="1162.8" cy="893" r="7.55"/><circle cx="1167.1" cy="893" r="7.55"/><circle cx="1171.4" cy="893" r="7.55"/><circle cx="1174.3" cy="884.1" r="7.55"/><circle cx="1181" cy="881.2" r="7.55"/><circle cx="1186.8" cy="876.8" r="7.55"/><circle cx="1197" cy="853.7" r="7.55"/><circle cx="1189.7" cy="791.4" r="7.55"/><circle cx="1196.4" cy="791.4" r="7.55"/><circle cx="1204.6" cy="789.5" r="7.55"/>
</g>
<g fill="#ffc0cb">
<circle cx="1226" cy="775.5" r="7.55"/><circle cx="1233.1" cy="789.9" r="7.55"/><circle cx="1239.8" cy="790.9" r="7.55"/><circle cx="1242.7" cy="852.8" r="7.55"/><circle cx="1249.4" cy="852.8" r="7.55"/><circle cx="1255.3" cy="853.7" r="7.55"/><circle cx="1260.1" cy="852.8" r="7.55"/><circle cx="1262.6" cy="768.4" r="7.55"/><circle cx="1265" cy="756.4" r="7.55"/><circle cx="1267.4" cy="744.1" r="7.55"/><circle cx="1270.3" cy="707.3" r="7.55"/><circle cx="1275.3" cy="707.8" r="7.55"/><circle cx="1279.8" cy="707.8" r="7.55"/><circle cx="1282.6" cy="697.7" r="7.55"/><circle cx="1287.3" cy="697.7" r="7.55"/><circle cx="1292.5" cy="697.7" r="7.55"/><circle cx="1285.4" cy="618.4" r="7.55"/><circle cx="1300.1" cy="612.7" r="7.55"/><circle cx="1296.8" cy="618.4" r="7.55"/><circle cx="1305.8" cy="618.4" r="7.55"/><circle cx="1341.8" cy="613.2" r="7.55"/><circle cx="1346.4" cy="613.2" r="7.55"/><circle cx="1350.9" cy="613.2" r="7.55"/><circle cx="1307.9" cy="836.6" r="7.55"/><circle cx="1309.7" cy="887" r="7.55"/><circle cx="1322.9" cy="887" r="7.55"/><circle cx="1315.1" cy="912.7" r="7.55"/><circle cx="1317.7" cy="912.7" r="7.55"/><circle cx="1325.1" cy="863.5" r="7.55"/><circle cx="1327.9" cy="836.6" r="7.55"/><circle cx="1334.1" cy="836.6" r="7.55"/><circle cx="1340.8" cy="836.6" r="7.55"/>
</g>
<g fill="#808000">
<circle cx="1373.5" cy="558.7" r="7.55"/><circle cx="1383.6" cy="558.7" r="7.55"/><circle cx="1379.1" cy="551.9" r="7.55"/><circle cx="1376" cy="553.2" r="7.55"/><circle cx="1382" cy="553.2" r="7.55"/><circle cx="1370.5" cy="607.1" r="7.55"/><circle cx="1384.7" cy="607.1" r="7.55"/><circle cx="1391.6" cy="607.1" r="7.55"/><circle cx="1393.4" cy="639.8" r="7.55"/><circle cx="1398.3" cy="674.7" r="7.55"/><circle cx="1400.6" cy="694.3" r="7.55"/><circle cx="1404.6" cy="694.3" r="7.55"/><circle cx="1408.5" cy="694.3" r="7.55"/><circle cx="1413.5" cy="741.2" r="7.55"/><circle cx="1415.3" cy="833.5" r="7.55"/><circle cx="1419.5" cy="833.5" r="7.55"/><circle cx="1423.7" cy="833.5" r="7.55"/><circle cx="1434.6" cy="848.9" r="7.55"/><circle cx="1426.2" cy="857.2" r="7.55"/><circle cx="1440.4" cy="857.2" r="7.55"/><circle cx="1443.8" cy="874.8" r="7.55"/><circle cx="1449.1" cy="874.8" r="7.55"/><circle cx="1454.4" cy="874.8" r="7.55"/><circle cx="1459.7" cy="874.8" r="7.55"/><circle cx="1464.9" cy="874.8" r="7.55"/><circle cx="1470.2" cy="874.8" r="7.55"/><circle cx="1475.4" cy="874.8" r="7.55"/><circle cx="1480.7" cy="874.8" r="7.55"/><circle cx="1485.9" cy="874.8" r="7.55"/><circle cx="1491.2" cy="874.8" r="7.55"/><circle cx="1496.4" cy="874.8" r="7.55"/><circle cx="1501.7" cy="874.8" r="7.55"/>
</g>
<g stroke="#b4b4b4" stroke-width="1.7" fill="none">
<line x1="485" y1="520.8" x2="485" y2="1001.5"/>
<line x1="635.7" y1="520.8" x2="635.7" y2="1001.5"/>
<line x1="786.4" y1="520.8" x2="786.4" y2="1001.5"/>
<line x1="938" y1="520.8" x2="938" y2="1001.5"/>
<line x1="1089.5" y1="520.8" x2="1089.5" y2="1001.5"/>
<line x1="1241.1" y1="520.8" x2="1241.1" y2="1001.5"/>
<line x1="1392.7" y1="520.8" x2="1392.7" y2="1001.5"/>
<line x1="333.4" y1="990.6" x2="1544.2" y2="990.6"/>
<line x1="333.4" y1="933.4" x2="1544.2" y2="933.4"/>
<line x1="333.4" y1="876.3" x2="1544.2" y2="876.3"/>
<line x1="333.4" y1="819.1" x2="1544.2" y2="819.1"/>
<line x1="333.4" y1="762" x2="1544.2" y2="762"/>
<line x1="333.4" y1="704.8" x2="1544.2" y2="704.8"/>
<line x1="333.4" y1="647.6" x2="1544.2" y2="647.6"/>
<line x1="333.4" y1="590.5" x2="1544.2" y2="590.5"/>
<line x1="333.4" y1="533.3" x2="1544.2" y2="533.3"/>
</g>
<g stroke="#1e1e1e" stroke-width="1.8" fill="none">
<line x1="333.4" y1="1001.5" x2="333.4" y2="1009.7"/>
<line x1="485" y1="1001.5" x2="485" y2="1009.7"/>
<line x1="635.7" y1="1001.5" x2="635.7" y2="1009.7"/>
<line x1="786.4" y1="1001.5" x2="786.4" y2="1009.7"/>
<line x1="938" y1="1001.5" x2="938" y2="1009.7"/>
<line x1="1089.5" y1="1001.5" x2="1089.5" y2="1009.7"/>
<line x1="1241.1" y1="1001.5" x2="1241.1" y2="1009.7"/>
<line x1="1392.7" y1="1001.5" x2="1392.7" y2="1009.7"/>
<line x1="1544.2" y1="1001.5" x2="1544.2" y2="1009.7"/>
<line x1="325.1" y1="990.6" x2="333.4" y2="990.6"/>
<line x1="325.1" y1="933.4" x2="333.4" y2="933.4"/>
<line x1="325.1" y1="876.3" x2="333.4" y2="876.3"/>
<line x1="325.1" y1="819.1" x2="333.4" y2="819.1"/>
<line x1="325.1" y1="762" x2="333.4" y2="762"/>
<line x1="325.1" y1="704.8" x2="333.4" y2="704.8"/>
<line x1="325.1" y1="647.6" x2="333.4" y2="647.6"/>
<line x1="325.1" y1="590.5" x2="333.4" y2="590.5"/>
<line x1="325.1" y1="533.3" x2="333.4" y2="533.3"/>
</g>
<rect x="333.4" y="520.8" width="1210.8" height="480.7" fill="none" stroke="#1e1e1e" stroke-width="2.0"/>
<g class="tk" text-anchor="end">
<text x="316.8" y="999.4">2.0</text>
<text x="316.8" y="942.2">2.5</text>
<text x="316.8" y="885.1">3.0</text>
<text x="316.8" y="827.9">3.5</text>
<text x="316.8" y="770.8">4.0</text>
<text x="316.8" y="713.6">4.5</text>
<text x="316.8" y="656.4">5.0</text>
<text x="316.8" y="599.3">5.5</text>
<text x="316.8" y="542.1">6.0</text>
</g>
<g fill="#ff0000">
<circle cx="365.5" cy="1491.5" r="7.6"/><circle cx="368.2" cy="1491.5" r="7.6"/><circle cx="371" cy="1491.8" r="7.6"/><circle cx="373.5" cy="1492.6" r="7.6"/><circle cx="376" cy="1493.2" r="7.6"/><circle cx="378.5" cy="1492.2" r="7.6"/><circle cx="381" cy="1491.4" r="7.6"/><circle cx="383.5" cy="1490" r="7.6"/><circle cx="386" cy="1489.6" r="7.6"/><circle cx="388.3" cy="1489.8" r="7.6"/><circle cx="390.7" cy="1490.6" r="7.6"/><circle cx="393" cy="1489.9" r="7.6"/><circle cx="395.3" cy="1490.4" r="7.6"/><circle cx="397.7" cy="1489.5" r="7.6"/><circle cx="400" cy="1489.6" r="7.6"/><circle cx="402.3" cy="1489.9" r="7.6"/><circle cx="404.6" cy="1490.5" r="7.6"/><circle cx="406.9" cy="1490.5" r="7.6"/><circle cx="409.2" cy="1490.5" r="7.6"/><circle cx="411.5" cy="1489.8" r="7.6"/><circle cx="413.8" cy="1490.2" r="7.6"/><circle cx="416.2" cy="1490.1" r="7.6"/><circle cx="418.5" cy="1490.1" r="7.6"/><circle cx="420.8" cy="1489.5" r="7.6"/><circle cx="423.1" cy="1490.7" r="7.6"/><circle cx="425.4" cy="1489.6" r="7.6"/><circle cx="427.7" cy="1490.8" r="7.6"/><circle cx="430" cy="1490.7" r="7.6"/><circle cx="432.5" cy="1489.2" r="7.6"/><circle cx="435" cy="1489.8" r="7.6"/><circle cx="437.5" cy="1490.4" r="7.6"/><circle cx="440" cy="1490.5" r="7.6"/><circle cx="442.5" cy="1489.7" r="7.6"/><circle cx="445" cy="1489.3" r="7.6"/><circle cx="447.5" cy="1489.2" r="7.6"/><circle cx="450" cy="1490.3" r="7.6"/><circle cx="452.3" cy="1489.1" r="7.6"/><circle cx="454.7" cy="1489.7" r="7.6"/><circle cx="457" cy="1489" r="7.6"/><circle cx="459.3" cy="1489.6" r="7.6"/><circle cx="461.7" cy="1490.3" r="7.6"/><circle cx="464" cy="1489.6" r="7.6"/>
</g>
<g fill="#0000ff">
<circle cx="479" cy="1489.5" r="7.6"/><circle cx="481.3" cy="1488.9" r="7.6"/><circle cx="483.7" cy="1490" r="7.6"/><circle cx="486" cy="1489.5" r="7.6"/><circle cx="488.3" cy="1490.2" r="7.6"/><circle cx="490.7" cy="1489.9" r="7.6"/><circle cx="493" cy="1489.1" r="7.6"/><circle cx="495.3" cy="1490.2" r="7.6"/><circle cx="497.7" cy="1489.6" r="7.6"/><circle cx="500" cy="1488.8" r="7.6"/><circle cx="502.4" cy="1488.8" r="7.6"/><circle cx="504.7" cy="1489.6" r="7.6"/><circle cx="507.1" cy="1489.6" r="7.6"/><circle cx="509.4" cy="1489.3" r="7.6"/><circle cx="511.8" cy="1489.1" r="7.6"/><circle cx="514.1" cy="1489.4" r="7.6"/><circle cx="516.5" cy="1489.4" r="7.6"/><circle cx="518.8" cy="1490.2" r="7.6"/><circle cx="521.2" cy="1488.9" r="7.6"/><circle cx="523.5" cy="1490.1" r="7.6"/><circle cx="525.9" cy="1490.3" r="7.6"/><circle cx="528.2" cy="1489.1" r="7.6"/><circle cx="530.6" cy="1490.4" r="7.6"/><circle cx="532.9" cy="1490.1" r="7.6"/><circle cx="535.3" cy="1490.4" r="7.6"/><circle cx="537.6" cy="1489.5" r="7.6"/><circle cx="540" cy="1489.6" r="7.6"/><circle cx="542.3" cy="1489.7" r="7.6"/><circle cx="544.6" cy="1490.7" r="7.6"/><circle cx="546.9" cy="1490" r="7.6"/><circle cx="549.2" cy="1489.7" r="7.6"/><circle cx="551.5" cy="1489.8" r="7.6"/><circle cx="553.8" cy="1489.6" r="7.6"/><circle cx="556.2" cy="1489.3" r="7.6"/><circle cx="558.5" cy="1489.4" r="7.6"/><circle cx="560.8" cy="1490.6" r="7.6"/><circle cx="563.1" cy="1489.8" r="7.6"/><circle cx="565.4" cy="1490.8" r="7.6"/><circle cx="567.7" cy="1489.8" r="7.6"/><circle cx="570" cy="1489.8" r="7.6"/><circle cx="572.5" cy="1490.3" r="7.6"/><circle cx="575" cy="1490" r="7.6"/><circle cx="577.5" cy="1490.4" r="7.6"/><circle cx="580" cy="1491.4" r="7.6"/><circle cx="582.5" cy="1491.4" r="7.6"/><circle cx="585" cy="1491.4" r="7.6"/><circle cx="587.5" cy="1491.3" r="7.6"/><circle cx="590" cy="1491.9" r="7.6"/><circle cx="592.7" cy="1492.2" r="7.6"/><circle cx="595.3" cy="1491.8" r="7.6"/><circle cx="598" cy="1492.4" r="7.6"/><circle cx="600.5" cy="1491.2" r="7.6"/><circle cx="603" cy="1492.2" r="7.6"/><circle cx="605.5" cy="1491.6" r="7.6"/><circle cx="608" cy="1491.6" r="7.6"/>
</g>
<g fill="#800080">
<circle cx="623.1" cy="1489.8" r="7.6"/><circle cx="625.5" cy="1490.1" r="7.6"/><circle cx="627.9" cy="1489.9" r="7.6"/><circle cx="630.3" cy="1489.2" r="7.6"/><circle cx="632.8" cy="1488.8" r="7.6"/><circle cx="635.2" cy="1490.1" r="7.6"/><circle cx="637.6" cy="1488.8" r="7.6"/><circle cx="640" cy="1489.3" r="7.6"/><circle cx="642.4" cy="1488.9" r="7.6"/><circle cx="644.8" cy="1488.8" r="7.6"/><circle cx="647.3" cy="1489.3" r="7.6"/><circle cx="649.7" cy="1489.6" r="7.6"/><circle cx="652.1" cy="1488.4" r="7.6"/><circle cx="654.5" cy="1488.9" r="7.6"/><circle cx="657" cy="1488.2" r="7.6"/><circle cx="659.4" cy="1488.5" r="7.6"/><circle cx="661.8" cy="1488.1" r="7.6"/><circle cx="664.3" cy="1487.8" r="7.6"/><circle cx="666.9" cy="1487.9" r="7.6"/><circle cx="669.5" cy="1488" r="7.6"/><circle cx="672" cy="1489.1" r="7.6"/><circle cx="674.6" cy="1488.8" r="7.6"/><circle cx="677.3" cy="1488.8" r="7.6"/><circle cx="679.6" cy="1491.2" r="7.6"/><circle cx="682" cy="1492.6" r="7.6"/><circle cx="684" cy="1493" r="7.6"/><circle cx="685.9" cy="1493.7" r="7.6"/><circle cx="687.5" cy="1492.4" r="7.6"/><circle cx="689" cy="1490.8" r="7.6"/><circle cx="691.3" cy="1488.7" r="7.6"/><circle cx="692.5" cy="1486" r="7.6"/><circle cx="693.6" cy="1484.4" r="7.6"/>
</g>
<g fill="#800080">
<circle cx="699.1" cy="1469.6" r="7.55"/><circle cx="701.2" cy="1460.2" r="7.55"/>
</g>
<g fill="#800080">
<circle cx="706.6" cy="1443" r="7.6"/><circle cx="707.5" cy="1440.1" r="7.6"/><circle cx="708.5" cy="1437.6" r="7.6"/><circle cx="709.8" cy="1435.6" r="7.6"/><circle cx="711" cy="1433.6" r="7.6"/><circle cx="712.2" cy="1431.2" r="7.6"/><circle cx="713.4" cy="1428.5" r="7.6"/><circle cx="714.6" cy="1426.4" r="7.6"/><circle cx="715.8" cy="1424.5" r="7.6"/><circle cx="717" cy="1422.3" r="7.6"/><circle cx="718.2" cy="1420.6" r="7.6"/><circle cx="719.4" cy="1419.3" r="7.6"/>
</g>
<g fill="#800080">
<circle cx="726.2" cy="1405.3" r="7.6"/><circle cx="727.9" cy="1402.7" r="7.6"/><circle cx="729.5" cy="1401.1" r="7.6"/><circle cx="731.4" cy="1400.4" r="7.6"/><circle cx="733.2" cy="1397.2" r="7.6"/><circle cx="735.1" cy="1396.5" r="7.6"/><circle cx="737" cy="1395.4" r="7.6"/><circle cx="739.8" cy="1393.6" r="7.6"/><circle cx="740.8" cy="1390.5" r="7.6"/><circle cx="741.8" cy="1388.6" r="7.6"/><circle cx="742.6" cy="1386.6" r="7.6"/><circle cx="743.5" cy="1384.8" r="7.6"/><circle cx="744.1" cy="1382.4" r="7.6"/><circle cx="744.8" cy="1380.7" r="7.6"/><circle cx="745.4" cy="1378.3" r="7.6"/><circle cx="746" cy="1376.1" r="7.6"/><circle cx="746.5" cy="1372.6" r="7.6"/><circle cx="747.1" cy="1370.4" r="7.6"/><circle cx="747.6" cy="1369.3" r="7.6"/><circle cx="748.1" cy="1367.5" r="7.6"/><circle cx="748.7" cy="1364.8" r="7.6"/><circle cx="749.2" cy="1362.7" r="7.6"/>
</g>
<g fill="#ffa500">
<circle cx="768.8" cy="1311.6" r="7.55"/><circle cx="771.2" cy="1300.5" r="7.55"/><circle cx="776.3" cy="1276.5" r="7.55"/><circle cx="778.6" cy="1263.2" r="7.55"/><circle cx="784" cy="1240" r="7.55"/><circle cx="786.3" cy="1228.2" r="7.55"/>
</g>
<g fill="#ffa500">
<circle cx="791.4" cy="1205.5" r="7.6"/><circle cx="792.3" cy="1203.2" r="7.6"/><circle cx="793.3" cy="1199.8" r="7.6"/><circle cx="794.2" cy="1197.9" r="7.6"/><circle cx="795.1" cy="1196.3" r="7.6"/><circle cx="796.1" cy="1193.7" r="7.6"/><circle cx="797" cy="1191.3" r="7.6"/><circle cx="797.9" cy="1189" r="7.6"/><circle cx="798.9" cy="1185.3" r="7.6"/><circle cx="799.8" cy="1182.6" r="7.6"/><circle cx="801" cy="1180.2" r="7.6"/><circle cx="802.3" cy="1178.3" r="7.6"/><circle cx="803.5" cy="1176.1" r="7.6"/><circle cx="804.5" cy="1174.6" r="7.6"/><circle cx="805.5" cy="1172.4" r="7.6"/><circle cx="806.5" cy="1170.4" r="7.6"/><circle cx="807.5" cy="1168.7" r="7.6"/><circle cx="808.8" cy="1166.1" r="7.6"/><circle cx="810.2" cy="1164" r="7.6"/><circle cx="811.5" cy="1161.8" r="7.6"/>
</g>
<g fill="#ffa500">
<circle cx="816.5" cy="1144.3" r="7.6"/><circle cx="817.5" cy="1141.7" r="7.6"/><circle cx="818.5" cy="1141" r="7.6"/><circle cx="820" cy="1138.3" r="7.6"/><circle cx="821.5" cy="1137.7" r="7.6"/><circle cx="823.2" cy="1136.2" r="7.6"/><circle cx="825" cy="1134.6" r="7.6"/><circle cx="826.7" cy="1133.3" r="7.6"/><circle cx="828.8" cy="1132.5" r="7.6"/><circle cx="830.9" cy="1132.2" r="7.6"/><circle cx="833" cy="1131.3" r="7.6"/><circle cx="835.3" cy="1129.7" r="7.6"/><circle cx="837.5" cy="1128.9" r="7.6"/><circle cx="839.8" cy="1128.9" r="7.6"/><circle cx="842.2" cy="1128.6" r="7.6"/><circle cx="844.6" cy="1127.8" r="7.6"/><circle cx="847" cy="1127.1" r="7.6"/><circle cx="849.5" cy="1127.3" r="7.6"/><circle cx="852.1" cy="1126.1" r="7.6"/><circle cx="854.6" cy="1126.2" r="7.6"/><circle cx="857.1" cy="1126.1" r="7.6"/><circle cx="859.6" cy="1126.6" r="7.6"/><circle cx="862" cy="1125.8" r="7.6"/><circle cx="864.5" cy="1125.8" r="7.6"/><circle cx="867" cy="1124.9" r="7.6"/><circle cx="869.5" cy="1124.2" r="7.6"/><circle cx="871.8" cy="1124" r="7.6"/><circle cx="874.1" cy="1124.9" r="7.6"/><circle cx="876.4" cy="1124.2" r="7.6"/><circle cx="878.6" cy="1123.4" r="7.6"/><circle cx="880.9" cy="1122.7" r="7.6"/><circle cx="883.2" cy="1123.2" r="7.6"/><circle cx="885.5" cy="1123" r="7.6"/>
</g>
<g fill="#000000">
<circle cx="908.2" cy="1122.3" r="8.5"/><circle cx="910.6" cy="1121.7" r="8.5"/><circle cx="913" cy="1120.4" r="8.5"/><circle cx="915.5" cy="1118.9" r="8.5"/><circle cx="918" cy="1118.3" r="8.5"/><circle cx="920.3" cy="1117.4" r="8.5"/><circle cx="922.7" cy="1115" r="8.5"/><circle cx="925" cy="1113.5" r="8.5"/><circle cx="927" cy="1112.9" r="8.5"/><circle cx="929" cy="1112.1" r="8.5"/><circle cx="931" cy="1111.5" r="8.5"/><circle cx="933.6" cy="1109.9" r="8.5"/><circle cx="936.1" cy="1110.1" r="8.5"/><circle cx="938.7" cy="1109.2" r="8.5"/><circle cx="941.1" cy="1108.2" r="8.5"/><circle cx="943.4" cy="1107.2" r="8.5"/><circle cx="945.8" cy="1107.8" r="8.5"/><circle cx="948.2" cy="1106.2" r="8.5"/><circle cx="950.5" cy="1106.4" r="8.5"/><circle cx="952.9" cy="1104.9" r="8.5"/><circle cx="955.3" cy="1104.3" r="8.5"/><circle cx="957.6" cy="1104.6" r="8.5"/><circle cx="960" cy="1103.3" r="8.5"/><circle cx="962.3" cy="1103.8" r="8.5"/><circle cx="964.5" cy="1102.6" r="8.5"/><circle cx="966.8" cy="1101.6" r="8.5"/><circle cx="969.1" cy="1101.1" r="8.5"/><circle cx="971.3" cy="1100.9" r="8.5"/><circle cx="973.6" cy="1100.8" r="8.5"/><circle cx="975.9" cy="1100.7" r="8.5"/><circle cx="978.1" cy="1098.9" r="8.5"/><circle cx="980.4" cy="1098.8" r="8.5"/><circle cx="982.8" cy="1098" r="8.5"/><circle cx="985.2" cy="1098.7" r="8.5"/><circle cx="987.6" cy="1096.9" r="8.5"/><circle cx="990" cy="1096.2" r="8.5"/><circle cx="992.4" cy="1095.7" r="8.5"/><circle cx="994.8" cy="1095.8" r="8.5"/><circle cx="997.2" cy="1096.1" r="8.5"/><circle cx="999.6" cy="1095.5" r="8.5"/><circle cx="1002" cy="1094.8" r="8.5"/><circle cx="1004.3" cy="1094.8" r="8.5"/><circle cx="1006.7" cy="1094.2" r="8.5"/><circle cx="1009" cy="1092.8" r="8.5"/><circle cx="1011.4" cy="1092.1" r="8.5"/><circle cx="1013.7" cy="1092.9" r="8.5"/><circle cx="1016" cy="1092.2" r="8.5"/><circle cx="1018.4" cy="1090.6" r="8.5"/><circle cx="1020.7" cy="1091.1" r="8.5"/><circle cx="1023.1" cy="1090.2" r="8.5"/><circle cx="1025.4" cy="1089.8" r="8.5"/><circle cx="1027.9" cy="1089.4" r="8.5"/><circle cx="1030.4" cy="1088.8" r="8.5"/><circle cx="1032.9" cy="1088.1" r="8.5"/><circle cx="1035.5" cy="1088.2" r="8.5"/><circle cx="1038" cy="1088" r="8.5"/><circle cx="1040.5" cy="1088.6" r="8.5"/><circle cx="1043" cy="1086.9" r="8.5"/><circle cx="1045.4" cy="1087.9" r="8.5"/><circle cx="1047.7" cy="1086.4" r="8.5"/><circle cx="1050.1" cy="1086.4" r="8.5"/><circle cx="1052.4" cy="1086.8" r="8.5"/><circle cx="1054.8" cy="1086.5" r="8.5"/><circle cx="1057.1" cy="1085.6" r="8.5"/><circle cx="1059.5" cy="1085.4" r="8.5"/>
</g>
<g fill="#00ffff">
<circle cx="1081.7" cy="1083.3" r="7.6"/><circle cx="1084" cy="1082.3" r="7.6"/><circle cx="1086.4" cy="1082.6" r="7.6"/><circle cx="1088.7" cy="1082.1" r="7.6"/><circle cx="1091" cy="1082.7" r="7.6"/><circle cx="1093.3" cy="1081.2" r="7.6"/><circle cx="1095.7" cy="1081.1" r="7.6"/><circle cx="1098" cy="1081.6" r="7.6"/><circle cx="1100.5" cy="1079.9" r="7.6"/><circle cx="1103" cy="1080.2" r="7.6"/><circle cx="1105.5" cy="1080.6" r="7.6"/><circle cx="1108" cy="1080.2" r="7.6"/><circle cx="1110.5" cy="1078.7" r="7.6"/><circle cx="1113" cy="1078.4" r="7.6"/><circle cx="1115.5" cy="1078.1" r="7.6"/><circle cx="1118" cy="1079.2" r="7.6"/><circle cx="1120.5" cy="1078" r="7.6"/><circle cx="1123" cy="1078.5" r="7.6"/><circle cx="1125.5" cy="1078.5" r="7.6"/><circle cx="1128" cy="1077.4" r="7.6"/><circle cx="1130.5" cy="1077.1" r="7.6"/><circle cx="1133" cy="1078" r="7.6"/><circle cx="1135.5" cy="1077.2" r="7.6"/><circle cx="1138" cy="1076.4" r="7.6"/><circle cx="1140.5" cy="1077" r="7.6"/><circle cx="1143" cy="1076.2" r="7.6"/><circle cx="1145.5" cy="1076" r="7.6"/><circle cx="1148" cy="1075.4" r="7.6"/><circle cx="1150.6" cy="1076.4" r="7.6"/><circle cx="1153.1" cy="1076.5" r="7.6"/><circle cx="1155.6" cy="1075.9" r="7.6"/><circle cx="1158.1" cy="1076.3" r="7.6"/><circle cx="1160.6" cy="1074.6" r="7.6"/><circle cx="1163.1" cy="1074.9" r="7.6"/><circle cx="1165.6" cy="1075.1" r="7.6"/><circle cx="1168.1" cy="1075.8" r="7.6"/><circle cx="1170.6" cy="1075.7" r="7.6"/><circle cx="1173" cy="1074.7" r="7.6"/><circle cx="1175.5" cy="1074.3" r="7.6"/><circle cx="1178" cy="1074.5" r="7.6"/><circle cx="1180.5" cy="1074.5" r="7.6"/><circle cx="1183" cy="1075.1" r="7.6"/><circle cx="1185.3" cy="1073.8" r="7.6"/><circle cx="1187.6" cy="1074.8" r="7.6"/><circle cx="1189.9" cy="1074.6" r="7.6"/><circle cx="1192.2" cy="1074.7" r="7.6"/><circle cx="1194.5" cy="1074.5" r="7.6"/><circle cx="1196.8" cy="1074.2" r="7.6"/><circle cx="1199.1" cy="1073.7" r="7.6"/><circle cx="1201.4" cy="1073.6" r="7.6"/><circle cx="1203.7" cy="1073.6" r="7.6"/><circle cx="1206" cy="1073.8" r="7.6"/>
</g>
<g fill="#ffc0cb">
<circle cx="1225" cy="1074.1" r="7.6"/><circle cx="1227.5" cy="1074.6" r="7.6"/><circle cx="1230" cy="1073.6" r="7.6"/><circle cx="1232.5" cy="1073.9" r="7.6"/><circle cx="1235" cy="1074.9" r="7.6"/><circle cx="1237.5" cy="1074.1" r="7.6"/><circle cx="1240" cy="1073.9" r="7.6"/><circle cx="1242.5" cy="1074" r="7.6"/><circle cx="1245" cy="1074.9" r="7.6"/><circle cx="1247.5" cy="1074.6" r="7.6"/><circle cx="1250" cy="1075.8" r="7.6"/><circle cx="1252.3" cy="1075.7" r="7.6"/><circle cx="1254.6" cy="1076" r="7.6"/><circle cx="1256.9" cy="1074.9" r="7.6"/><circle cx="1259.2" cy="1074.7" r="7.6"/><circle cx="1261.5" cy="1074.9" r="7.6"/><circle cx="1263.8" cy="1075.6" r="7.6"/><circle cx="1266.2" cy="1076" r="7.6"/><circle cx="1268.5" cy="1075.7" r="7.6"/><circle cx="1270.8" cy="1075.5" r="7.6"/><circle cx="1273.1" cy="1075.9" r="7.6"/><circle cx="1275.4" cy="1076.3" r="7.6"/><circle cx="1277.7" cy="1076.5" r="7.6"/><circle cx="1280" cy="1076.7" r="7.6"/><circle cx="1282.3" cy="1077" r="7.6"/><circle cx="1284.6" cy="1076.9" r="7.6"/><circle cx="1286.9" cy="1076.1" r="7.6"/><circle cx="1289.2" cy="1077.4" r="7.6"/><circle cx="1291.5" cy="1076.7" r="7.6"/><circle cx="1293.8" cy="1077.3" r="7.6"/><circle cx="1296.1" cy="1077.1" r="7.6"/><circle cx="1298.4" cy="1077.9" r="7.6"/><circle cx="1300.7" cy="1077.2" r="7.6"/><circle cx="1303" cy="1077.4" r="7.6"/><circle cx="1305.5" cy="1077.6" r="7.6"/><circle cx="1307.9" cy="1077.7" r="7.6"/><circle cx="1310.4" cy="1079" r="7.6"/><circle cx="1312.8" cy="1078.8" r="7.6"/><circle cx="1315.3" cy="1078.6" r="7.6"/><circle cx="1317.7" cy="1078.9" r="7.6"/><circle cx="1320.2" cy="1080.1" r="7.6"/><circle cx="1322.6" cy="1079.5" r="7.6"/><circle cx="1325.1" cy="1079.3" r="7.6"/><circle cx="1327.3" cy="1080.5" r="7.6"/><circle cx="1329.5" cy="1080.5" r="7.6"/><circle cx="1331.6" cy="1081.3" r="7.6"/><circle cx="1333.8" cy="1080.1" r="7.6"/><circle cx="1336" cy="1081" r="7.6"/><circle cx="1338.1" cy="1081.8" r="7.6"/><circle cx="1340.2" cy="1082.1" r="7.6"/><circle cx="1342.4" cy="1082.6" r="7.6"/><circle cx="1344.5" cy="1081.5" r="7.6"/><circle cx="1346.5" cy="1080.5" r="7.6"/><circle cx="1348.5" cy="1078.9" r="7.6"/><circle cx="1349.7" cy="1077.3" r="7.6"/><circle cx="1350.9" cy="1076.9" r="7.6"/><circle cx="1352.1" cy="1074.5" r="7.6"/>
</g>
<g fill="#808000">
<circle cx="1371.3" cy="1062.8" r="7.9"/><circle cx="1373.5" cy="1062.8" r="7.9"/><circle cx="1375.7" cy="1063.2" r="7.9"/><circle cx="1377.8" cy="1062.1" r="7.9"/><circle cx="1380" cy="1062.8" r="7.9"/><circle cx="1382.7" cy="1062" r="7.9"/><circle cx="1385.5" cy="1061.5" r="7.9"/><circle cx="1388.2" cy="1062.1" r="7.9"/><circle cx="1390.6" cy="1061.8" r="7.9"/><circle cx="1393" cy="1059.8" r="7.9"/><circle cx="1395.1" cy="1060.2" r="7.9"/><circle cx="1397.2" cy="1059.8" r="7.9"/><circle cx="1399.3" cy="1060.8" r="7.9"/><circle cx="1401.5" cy="1062.8" r="7.9"/><circle cx="1403.1" cy="1063.8" r="7.9"/><circle cx="1404.6" cy="1065.2" r="7.9"/><circle cx="1406.2" cy="1066.6" r="7.9"/><circle cx="1408.7" cy="1067" r="7.9"/><circle cx="1411.1" cy="1066.9" r="7.9"/><circle cx="1413.5" cy="1066" r="7.9"/><circle cx="1416" cy="1065.5" r="7.9"/><circle cx="1418.6" cy="1065.7" r="7.9"/><circle cx="1421.2" cy="1066" r="7.9"/><circle cx="1423.9" cy="1064.9" r="7.9"/><circle cx="1426.5" cy="1064.8" r="7.9"/><circle cx="1428.9" cy="1064.2" r="7.9"/><circle cx="1431.2" cy="1064.8" r="7.9"/><circle cx="1433.6" cy="1064" r="7.9"/><circle cx="1436" cy="1062.8" r="7.9"/><circle cx="1438.1" cy="1062.4" r="7.9"/><circle cx="1440.2" cy="1062.4" r="7.9"/><circle cx="1442.4" cy="1062.2" r="7.9"/><circle cx="1444.5" cy="1061.9" r="7.9"/><circle cx="1446.7" cy="1060.3" r="7.9"/><circle cx="1448.8" cy="1059.7" r="7.9"/><circle cx="1451" cy="1059.8" r="7.9"/><circle cx="1453" cy="1058.7" r="7.9"/><circle cx="1454.9" cy="1057.8" r="7.9"/><circle cx="1456.9" cy="1057.1" r="7.9"/><circle cx="1458.1" cy="1059.7" r="7.9"/><circle cx="1459.3" cy="1060.2" r="7.9"/><circle cx="1460.3" cy="1062.4" r="7.9"/><circle cx="1461.4" cy="1063.8" r="7.9"/><circle cx="1462.7" cy="1066.1" r="7.9"/><circle cx="1464" cy="1069.1" r="7.9"/><circle cx="1465.5" cy="1071.4" r="7.9"/><circle cx="1467" cy="1072.6" r="7.9"/><circle cx="1469.5" cy="1070.9" r="7.9"/><circle cx="1472" cy="1070.4" r="7.9"/><circle cx="1473.8" cy="1068.4" r="7.9"/><circle cx="1475.7" cy="1066.9" r="7.9"/><circle cx="1477.5" cy="1067.1" r="7.9"/><circle cx="1480.2" cy="1065.1" r="7.9"/><circle cx="1482.8" cy="1064.5" r="7.9"/><circle cx="1485.7" cy="1064.1" r="7.9"/><circle cx="1488.5" cy="1065.2" r="7.9"/><circle cx="1491.2" cy="1065.3" r="7.9"/><circle cx="1494" cy="1065.7" r="7.9"/><circle cx="1495.7" cy="1066.7" r="7.9"/><circle cx="1497.3" cy="1068.8" r="7.9"/><circle cx="1499" cy="1070.2" r="7.9"/><circle cx="1500.7" cy="1072.3" r="7.9"/><circle cx="1502.5" cy="1072.7" r="7.9"/><circle cx="1504.2" cy="1075" r="7.9"/>
</g>
<g stroke="#b4b4b4" stroke-width="1.7" fill="none">
<line x1="486.2" y1="1040.1" x2="486.2" y2="1520.6"/>
<line x1="637.5" y1="1040.1" x2="637.5" y2="1520.6"/>
<line x1="788.8" y1="1040.1" x2="788.8" y2="1520.6"/>
<line x1="940.1" y1="1040.1" x2="940.1" y2="1520.6"/>
<line x1="1091.3" y1="1040.1" x2="1091.3" y2="1520.6"/>
<line x1="1242.6" y1="1040.1" x2="1242.6" y2="1520.6"/>
<line x1="1393.9" y1="1040.1" x2="1393.9" y2="1520.6"/>
<line x1="334.9" y1="1424.5" x2="1545.2" y2="1424.5"/>
<line x1="334.9" y1="1328.4" x2="1545.2" y2="1328.4"/>
<line x1="334.9" y1="1232.3" x2="1545.2" y2="1232.3"/>
<line x1="334.9" y1="1136.2" x2="1545.2" y2="1136.2"/>
</g>
<g stroke="#1e1e1e" stroke-width="1.8" fill="none">
<line x1="334.9" y1="1520.6" x2="334.9" y2="1528.8"/>
<line x1="486.2" y1="1520.6" x2="486.2" y2="1528.8"/>
<line x1="637.5" y1="1520.6" x2="637.5" y2="1528.8"/>
<line x1="788.8" y1="1520.6" x2="788.8" y2="1528.8"/>
<line x1="940.1" y1="1520.6" x2="940.1" y2="1528.8"/>
<line x1="1091.3" y1="1520.6" x2="1091.3" y2="1528.8"/>
<line x1="1242.6" y1="1520.6" x2="1242.6" y2="1528.8"/>
<line x1="1393.9" y1="1520.6" x2="1393.9" y2="1528.8"/>
<line x1="1545.2" y1="1520.6" x2="1545.2" y2="1528.8"/>
<line x1="326.6" y1="1520.6" x2="334.9" y2="1520.6"/>
<line x1="326.6" y1="1424.5" x2="334.9" y2="1424.5"/>
<line x1="326.6" y1="1328.4" x2="334.9" y2="1328.4"/>
<line x1="326.6" y1="1232.3" x2="334.9" y2="1232.3"/>
<line x1="326.6" y1="1136.2" x2="334.9" y2="1136.2"/>
<line x1="326.6" y1="1040.1" x2="334.9" y2="1040.1"/>
</g>
<rect x="334.9" y="1040.1" width="1210.3" height="480.5" fill="none" stroke="#1e1e1e" stroke-width="2.0"/>
<g class="tk" text-anchor="end">
<text x="319" y="1529.5">0</text>
<text x="319" y="1433.4">5</text>
<text x="319" y="1337.3">10</text>
<text x="319" y="1241.2">15</text>
<text x="319" y="1145.1">20</text>
<text x="319" y="1049">25</text>
</g>
<g class="tk" style="letter-spacing:0.85px">
<text x="319.6" y="1552.6">06:15</text>
<text x="470.9" y="1552.6">06:30</text>
<text x="622.2" y="1552.6">06:45</text>
<text x="773.5" y="1552.6">07:00</text>
<text x="924.8" y="1552.6">07:15</text>
<text x="1076" y="1552.6">07:30</text>
<text x="1227.3" y="1552.6">07:45</text>
<text x="1378.6" y="1552.6">08:00</text>
<text x="1529.9" y="1552.6">08:15</text>
</g>
<g class="ax" text-anchor="end">
<text transform="translate(273.9 280.4) rotate(0.05)" textLength="238.2" lengthAdjust="spacingAndGlyphs">Distance between</text>
<text transform="translate(273.9 320.4) rotate(0.05)" textLength="268" lengthAdjust="spacingAndGlyphs">Whale &amp; Vessel [km]</text>
<text transform="translate(271.7 721.6) rotate(0.05)" textLength="85" lengthAdjust="spacingAndGlyphs">Whale</text>
<text transform="translate(271.7 761.4) rotate(0.05)" textLength="83.4" lengthAdjust="spacingAndGlyphs">Speed</text>
<text transform="translate(271.7 801.4) rotate(0.05)" textLength="96" lengthAdjust="spacingAndGlyphs">[km/hr]</text>
<text transform="translate(275 1250.7) rotate(0.05)" textLength="89.1" lengthAdjust="spacingAndGlyphs">Vessel</text>
<text transform="translate(273.8 1290.7) rotate(0.05)" textLength="83.2" lengthAdjust="spacingAndGlyphs">Speed</text>
<text transform="translate(274 1330.8) rotate(0.05)" textLength="95.7" lengthAdjust="spacingAndGlyphs">[km/hr]</text>
</g>
<g class="ax"><text transform="translate(871.2 1599.2) rotate(0.05)" textLength="142.2" lengthAdjust="spacingAndGlyphs">Time [UTC]</text></g>
<rect x="892" y="1541" width="1" height="8.5" fill="#cfcfcf"/>
<text class="sq" font-size="25.5" transform="translate(341.5 108.8) rotate(7.6)" textLength="138.6" lengthAdjust="spacingAndGlyphs">Sequence 1</text>
<text class="sq" font-size="25.5" transform="translate(485.1 123) rotate(7.0)" textLength="137.6" lengthAdjust="spacingAndGlyphs">Sequence 2</text>
<text class="sq" font-size="25.5" transform="translate(628.6 136.6) rotate(-0.4)" textLength="137.6" lengthAdjust="spacingAndGlyphs">Sequence 3</text>
<text class="sq" font-size="25.5" transform="translate(797.6 144.8) rotate(43.3)" textLength="138.7" lengthAdjust="spacingAndGlyphs">Sequence 4</text>
<text class="sq" font-size="25.5" transform="translate(939.4 289.2) rotate(35.1)" textLength="137.7" lengthAdjust="spacingAndGlyphs">Sequence 5</text>
<text class="sq" font-size="25.5" transform="translate(1111.4 463) rotate(-31.3)" textLength="139.1" lengthAdjust="spacingAndGlyphs">Sequence 6</text>
<text class="sq" font-size="25.5" transform="translate(1266.3 365.1) rotate(-43.7)" textLength="138.2" lengthAdjust="spacingAndGlyphs">Sequence 7</text>
<text class="sq" font-size="25.5" transform="translate(1423.2 213) rotate(-43.5)" textLength="138.4" lengthAdjust="spacingAndGlyphs">Sequence 8</text>
<text class="sq" font-size="22.8" transform="translate(355.7 615.9) rotate(0.05)" textLength="118.8" lengthAdjust="spacingAndGlyphs">Sequence 1</text>
<text class="sq" font-size="22.8" transform="translate(476.3 827.8) rotate(0.05)" textLength="118.8" lengthAdjust="spacingAndGlyphs">Sequence 2</text>
<text class="sq" font-size="22.8" transform="translate(567.3 967.4) rotate(0.05)" textLength="118.8" lengthAdjust="spacingAndGlyphs">Sequence 3</text>
<text class="sq" font-size="22.8" transform="translate(744.2 796.7) rotate(0.05)" textLength="118.8" lengthAdjust="spacingAndGlyphs">Sequence 4</text>
<text class="sq" font-size="22.8" transform="translate(939.2 872.7) rotate(0.05)" textLength="118.8" lengthAdjust="spacingAndGlyphs">Sequence 5</text>
<text class="sq" font-size="22.8" transform="translate(1068.5 646.7) rotate(0.05)" textLength="118.8" lengthAdjust="spacingAndGlyphs">Sequence 6</text>
<text class="sq" font-size="22.8" transform="translate(1217 591.6) rotate(0.05)" textLength="118.8" lengthAdjust="spacingAndGlyphs">Sequence 7</text>
<text class="sq" font-size="22.8" transform="translate(1401.3 594.3) rotate(0.05)" textLength="118.8" lengthAdjust="spacingAndGlyphs">Sequence 8</text>
<text class="sq" font-size="22.8" transform="translate(352.6 1468.5) rotate(0.05)" textLength="118.8" lengthAdjust="spacingAndGlyphs">Sequence 1</text>
<text class="sq" font-size="22.8" transform="translate(489.8 1467.7) rotate(0.05)" textLength="118.8" lengthAdjust="spacingAndGlyphs">Sequence 2</text>
<text class="sq" font-size="22.8" transform="translate(662.2 1476.8) rotate(-65.7)" textLength="119" lengthAdjust="spacingAndGlyphs">Sequence 3</text>
<text class="sq" font-size="22.8" transform="translate(750.8 1271.2) rotate(-69.9)" textLength="117.8" lengthAdjust="spacingAndGlyphs">Sequence 4</text>
<text class="sq" font-size="22.8" transform="translate(916.6 1100.2) rotate(-14.5)" textLength="118.5" lengthAdjust="spacingAndGlyphs">Sequence 5</text>
<text class="sq" font-size="22.8" transform="translate(1087.2 1062.7) rotate(0.05)" textLength="118.8" lengthAdjust="spacingAndGlyphs">Sequence 6</text>
<text class="sq" font-size="22.8" transform="translate(1240.1 1060.1) rotate(2.8)" textLength="118.2" lengthAdjust="spacingAndGlyphs">Sequence 7</text>
<text class="sq" font-size="22.8" transform="translate(1384.1 1094.8) rotate(2.6)" textLength="118.4" lengthAdjust="spacingAndGlyphs">Sequence 8</text>
</g>
</svg></body></html>
